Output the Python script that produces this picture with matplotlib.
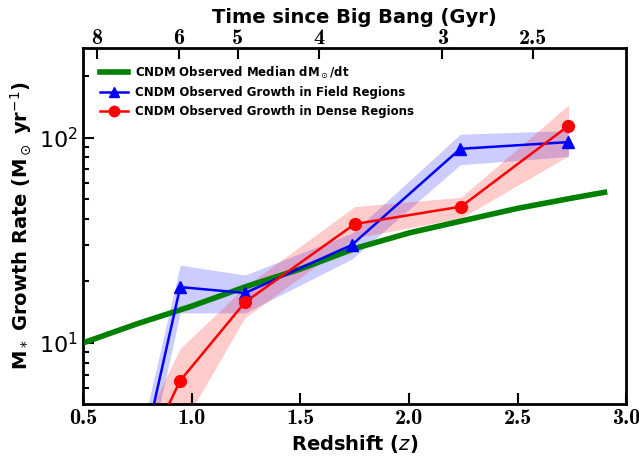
import numpy as np
from matplotlib import pyplot as plt
from matplotlib.lines import Line2D

# median growth curve
z_median = [0.5, 0.75, 1.0, 1.25, 1.5, 1.75, 2.0, 2.25, 2.5, 2.75, 2.9]
rate_median = [10.0, 12.4, 15.1, 18.8, 22.9, 28.8, 34.3, 39.4, 45.2, 50.7, 54.1]

# field regions
z_field = [0.75, 0.947, 1.246, 1.737, 2.236, 2.734]
rate_field = [2.2, 18.7, 17.5, 30.0, 88.1, 95.0]
field_lo = [1.6, 14.0, 14.0, 25.6, 73.7, 80.8]
field_hi = [3.0, 23.9, 21.4, 34.2, 103.8, 108.0]

# dense regions
z_dense = [0.75, 0.947, 1.246, 1.75, 2.24, 2.734]
rate_dense = [2.4, 6.55, 15.8, 37.9, 46.1, 114.0]
dense_lo = [1.5, 3.8, 13.3, 32.4, 40.5, 81.4]
dense_hi = [3.5, 9.4, 18.8, 46.1, 51.2, 144.0]

# top axis ticks (Gyr)
age_ticks = [8, 6, 5, 4, 3, 2.5]


def age_gyr(z, h0=70.0, om=0.3):
    ol = 1.0 - om
    th = 977.8 / h0
    return th * 2.0 / (3.0 * np.sqrt(ol)) * np.arcsinh(np.sqrt(ol / om) * (1.0 + z) ** -1.5)


def main() -> None:
    fig = plt.figure(figsize=(6.39, 4.61), dpi=100)
    ax = fig.add_axes([0.130, 0.124, 0.850, 0.772])

    ax.fill_between(z_field, field_lo, field_hi, color="blue", alpha=0.2, lw=0)
    ax.fill_between(z_dense, dense_lo, dense_hi, color="red", alpha=0.2, lw=0)
    ax.plot(z_median, rate_median, color="green", lw=4, zorder=3)
    ax.plot(z_field, rate_field, color="blue", lw=1.8, marker="^", ms=8.5, zorder=4)
    ax.plot(z_dense, rate_dense, color="red", lw=1.8, marker="o", ms=8.5, zorder=4)

    ax.set_yscale("log")
    ax.set_xlim(0.5, 3.0)
    ax.set_ylim(5.05, 273)
    ax.set_xticks([0.5, 1.0, 1.5, 2.0, 2.5, 3.0])
    ax.set_xticklabels(["0.5", "1.0", "1.5", "2.0", "2.5", "3.0"],
                       family="cmb10", fontsize=16)
    ax.tick_params(axis="y", which="major", labelsize=16)
    for lab in ax.yaxis.get_majorticklabels():
        lab.set_math_fontfamily("cm")

    ax.tick_params(which="both", direction="in", width=1.5, top=False, right=False)
    ax.tick_params(which="major", length=8)
    ax.tick_params(which="minor", length=4)
    ax.tick_params(axis="x", which="minor", bottom=False)
    for s in ax.spines.values():
        s.set_linewidth(2)

    ax.set_xlabel(r"Redshift ($z$)", fontsize=14, fontweight="bold", labelpad=4)
    ax.set_ylabel(r"M$_*$ Growth Rate (M$_\odot$ yr$^{-1}$)", fontsize=14, fontweight="bold")

    # top axis: time since big bang
    zgrid = np.linspace(0.3, 4.0, 2000)
    agrid = age_gyr(zgrid)
    ztop = np.interp(age_ticks, agrid[::-1], zgrid[::-1])
    top = ax.twiny()
    top.set_xlim(ax.get_xlim())
    top.set_xticks(ztop)
    top.set_xticklabels([str(a) for a in age_ticks], family="cmb10", fontsize=16)
    top.tick_params(direction="in", length=8, width=1.5, pad=0)
    top.set_xlabel("Time since Big Bang (Gyr)", fontsize=14, fontweight="bold", labelpad=4)

    handles = [
        Line2D([], [], color="green", lw=4),
        Line2D([], [], color="blue", lw=1.8, marker="^", ms=7.5),
        Line2D([], [], color="red", lw=1.8, marker="o", ms=7.5),
    ]
    labels = [
        r"CNDM Observed Median dM$_\odot$/dt",
        "CNDM Observed Growth in Field Regions",
        "CNDM Observed Growth in Dense Regions",
    ]
    ax.legend(handles, labels, loc="upper left", frameon=False,
              prop={"size": 8.5, "weight": "bold"}, handlelength=2.4,
              handletextpad=0.6, borderaxespad=1.0, labelspacing=0.5)

    fig.savefig("out.png", dpi=100)
    plt.close(fig)


if __name__ == "__main__":
    main()
